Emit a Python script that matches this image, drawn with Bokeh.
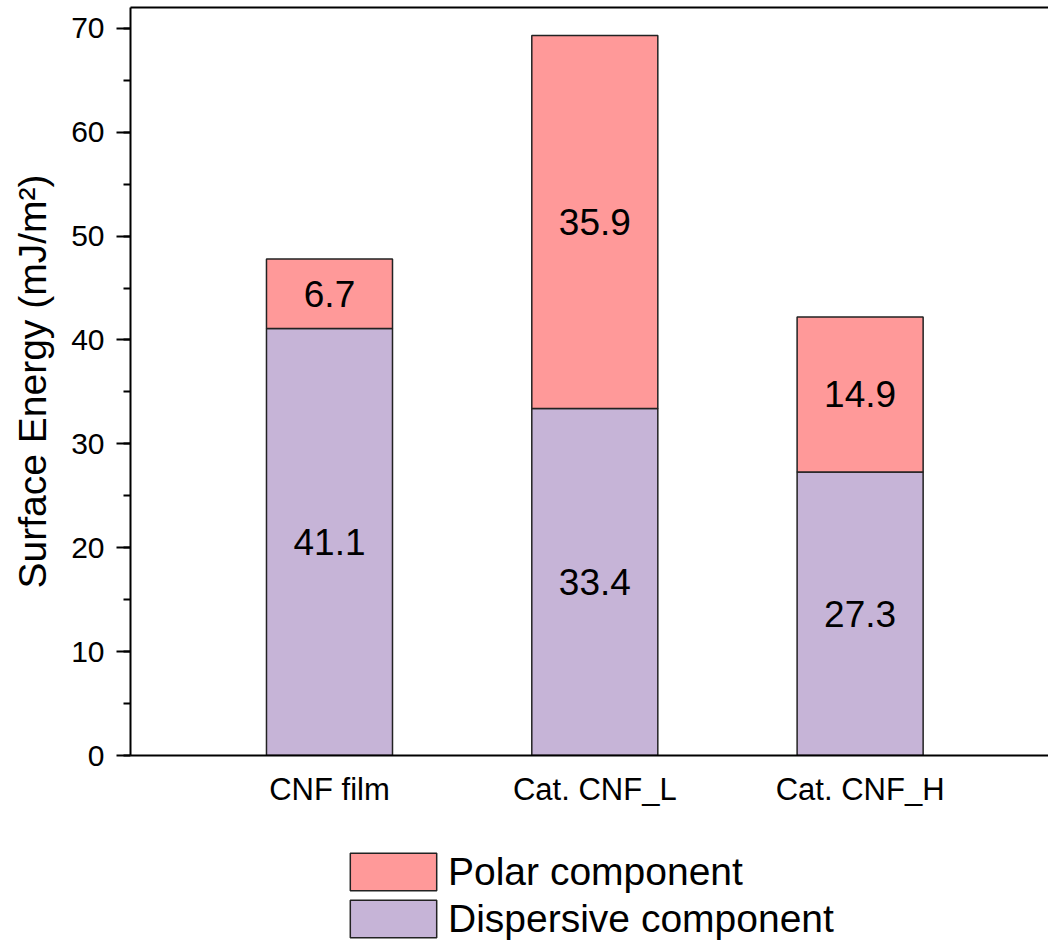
from bokeh.plotting import figure
from bokeh.layouts import column
from bokeh.models import (LinearAxis, FixedTicker, SingleIntervalTicker, Legend,
                          LegendItem, ColumnDataSource, Range1d)
from bokeh.core.properties import value
from bokeh.embed import file_html
from bokeh.resources import INLINE

categories = ["CNF film", "Cat. CNF_L", "Cat. CNF_H"]
dispersive = [41.1, 33.4, 27.3]
polar = [6.7, 35.9, 14.9]
positions = [1, 2, 3]
series_names = ["Polar component", "Dispersive component"]

FONT = "Liberation Sans"
C_POLAR = "#FF9999"
C_DISP = "#C6B4D7"

src = ColumnDataSource(data=dict(
    x=positions,
    dispersive=dispersive,
    polar=polar,
))

p = figure(width=1048, height=835, frame_width=918, frame_height=748,
           x_range=Range1d(0.25, 3.71), y_range=Range1d(0, 72),
           output_backend="svg", toolbar_location=None,
           min_border_left=130, min_border_top=7,
           min_border_right=0, min_border_bottom=80)

p.outline_line_color = None
p.xgrid.visible = False
p.ygrid.visible = False
p.background_fill_color = "white"

r_disp, r_polar = p.vbar_stack(["dispersive", "polar"], x="x", width=0.475,
                               source=src, color=[C_DISP, C_POLAR],
                               line_color="#222222", line_width=1.5)

# value labels centred in each segment
lab_x = positions + positions
lab_y = [d / 2 for d in dispersive] + [d + q / 2 for d, q in zip(dispersive, polar)]
lab_t = [f"{v:.1f}" for v in dispersive] + [f"{v:.1f}" for v in polar]
p.text(x=lab_x, y=lab_y, text=lab_t, text_align="center", text_baseline="middle",
       text_font=value(FONT), text_font_size="37px", text_color="black")

# y axis
ya = p.yaxis[0]
ya.ticker = SingleIntervalTicker(interval=10, num_minor_ticks=2)
ya.axis_label = "Surface Energy (mJ/m²)"
ya.axis_label_text_font = FONT
ya.axis_label_text_font_size = "39px"
ya.axis_label_text_font_style = "normal"
ya.axis_label_text_color = "black"
ya.axis_label_standoff = 14
ya.major_label_text_font = FONT
ya.major_label_text_font_size = "30px"
ya.major_label_text_color = "black"
ya.major_label_standoff = 12
ya.major_tick_out = 14
ya.major_tick_in = 0
ya.minor_tick_out = 7
ya.minor_tick_in = 0
ya.axis_line_width = 2
ya.major_tick_line_width = 2
ya.minor_tick_line_width = 2
ya.axis_line_color = "black"
ya.major_tick_line_color = "black"
ya.minor_tick_line_color = "black"

# x axis
xa = p.xaxis[0]
xa.ticker = FixedTicker(ticks=positions)
xa.major_label_overrides = {pos: c for pos, c in zip(positions, categories)}
xa.major_label_text_font = FONT
xa.major_label_text_font_size = "31px"
xa.major_label_text_color = "black"
xa.major_label_standoff = 16
xa.major_tick_line_color = None
xa.major_tick_out = 0
xa.major_tick_in = 0
xa.minor_tick_line_color = None
xa.axis_line_width = 2
xa.axis_line_color = "black"

# top frame line
top = LinearAxis(ticker=FixedTicker(ticks=[]), axis_line_width=2,
                 axis_line_color="black",
                 major_tick_line_color=None, minor_tick_line_color=None,
                 major_tick_out=0, major_tick_in=0,
                 major_label_text_font_size="0px")
p.add_layout(top, "above")

# legend strip below the chart (legend-only renderers with no drawable point)
p2 = figure(width=1048, height=107, output_backend="svg", toolbar_location=None,
            x_range=Range1d(0, 1), y_range=Range1d(0, 1),
            min_border_left=0, min_border_right=0, min_border_top=0,
            min_border_bottom=0)
p2.axis.visible = False
p2.xgrid.visible = False
p2.ygrid.visible = False
p2.outline_line_color = None
proxy = ColumnDataSource(data=dict(x=[float("nan")], top=[float("nan")]))
lg_polar = p2.vbar(x="x", top="top", width=0.1, source=proxy,
                   fill_color=C_POLAR, line_color="#222222", line_width=1.5)
lg_disp = p2.vbar(x="x", top="top", width=0.1, source=proxy,
                  fill_color=C_DISP, line_color="#222222", line_width=1.5)

legend = Legend(items=[LegendItem(label=series_names[0], renderers=[lg_polar]),
                       LegendItem(label=series_names[1], renderers=[lg_disp])],
                location=(209, 0), orientation="vertical",
                glyph_width=108, glyph_height=47, label_height=47,
                label_text_font=FONT, label_text_font_size="39px",
                label_text_color="black",
                label_standoff=1, spacing=0, padding=0, margin=0,
                border_line_color=None, background_fill_alpha=0)
p2.add_layout(legend, "center")

open("out.html", "w").write(file_html(column(p, p2, spacing=0), INLINE))
